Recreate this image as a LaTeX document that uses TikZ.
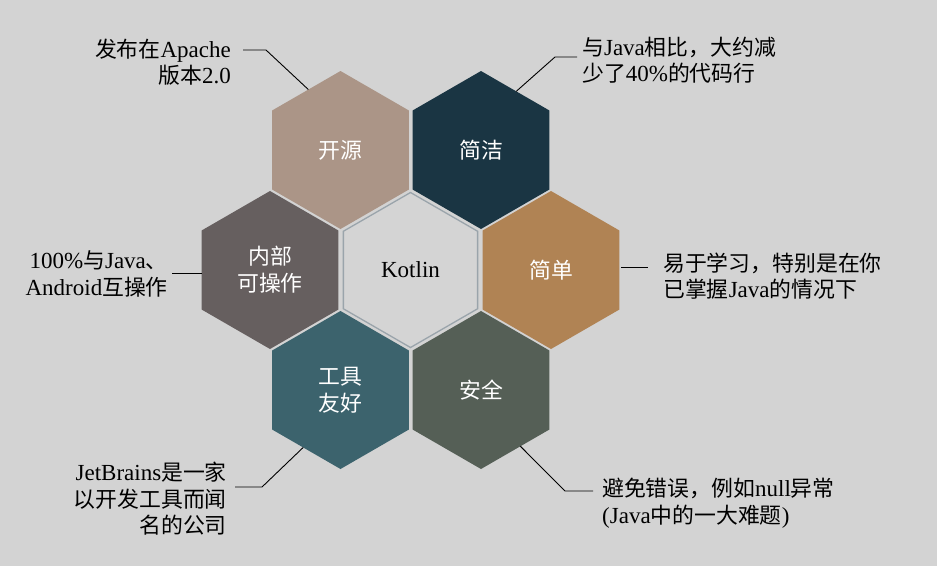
\documentclass[tikz,border=0pt]{standalone}
\usepackage{fontspec}
\setmainfont{Liberation Serif}
\newfontfamily\cjk{Noto Sans CJK SC}[Scale=0.95]
\usetikzlibrary{shapes.geometric}
\definecolor{bgc}{HTML}{D3D3D3}
\definecolor{ckaiyuan}{HTML}{AB9587}
\definecolor{cjianjie}{HTML}{1A3543}
\definecolor{cjiandan}{HTML}{B08354}
\definecolor{cneibu}{HTML}{665F5F}
\definecolor{cgongju}{HTML}{3C636D}
\definecolor{canquan}{HTML}{555F56}
\definecolor{ccenter}{HTML}{D4D4D4}
\definecolor{ccborder}{HTML}{9AA4AB}
\tikzset{
  hexbox/.style={regular polygon, regular polygon sides=6, shape border rotate=30,
    minimum size=158pt, inner sep=0pt, outer sep=0pt, text=white, align=center,
    font=\fontsize{23}{27}\selectfont},
  annot/.style={inner sep=0pt, text=black, font=\fontsize{23}{26.5}\selectfont},
  conn/.style={draw=black, line width=0.9pt}
}
\begin{document}
\begin{tikzpicture}[x=1pt,y=-1pt]
\fill[bgc] (0,0) rectangle (937,566);
\useasboundingbox (0,0) rectangle (937,566);
% hexagons
\node[hexbox, fill=ckaiyuan] (kaiyuan) at (340.5,150) {{\cjk 开源}};
\node[hexbox, fill=cjianjie] (jianjie) at (481,150) {{\cjk 简洁}};
\node[hexbox, fill=cneibu] (neibu) at (270,270) {{\cjk 内部}\\{\cjk 可操作}};
\node[hexbox, fill=cjiandan] (jiandan) at (551,270) {{\cjk 简单}};
\node[hexbox, fill=cgongju] (gongju) at (340.5,390) {{\cjk 工具}\\{\cjk 友好}};
\node[hexbox, fill=canquan] (anquan) at (481,390) {{\cjk 安全}};
\node[hexbox, fill=ccenter, draw=ccborder, line width=1.3pt, minimum size=155pt, text=black] (kotlin) at (410.5,270) {Kotlin};
% annotations
\node[annot, anchor=east, align=right] (a1) at (231,62) {{\cjk 发布在}Apache\\{\cjk 版本}2.0};
\node[annot, anchor=west, align=left] (a2) at (582,60) {{\cjk 与}Java{\cjk 相比，大约减}\\{\cjk 少了}40\%{\cjk 的代码行}};
\node[annot, anchor=east, align=right] (a3) at (168,274) {100\%{\cjk 与}Java{\cjk 、}\\Android{\cjk 互操作}};
\node[annot, anchor=west, align=left] (a4) at (663,276) {{\cjk 易于学习，特别是在你}\\{\cjk 已掌握}Java{\cjk 的情况下}};
\node[annot, anchor=east, align=right] (a5) at (227,499) {JetBrains{\cjk 是一家}\\{\cjk 以开发工具而闻}\\{\cjk 名的公司}};
\node[annot, anchor=west, align=left] (a6) at (602,503) {{\cjk 避免错误，例如}null{\cjk 异常}\\(Java{\cjk 中的一大难题})};
% connector points
\coordinate (c1a) at (243,50);
\coordinate (c1b) at (266,50);
\coordinate (c2a) at (577,57);
\coordinate (c2b) at (555,57);
\coordinate (c3a) at (172,273);
\coordinate (c3b) at (202,273);
\coordinate (c4a) at (621,267);
\coordinate (c4b) at (648,267);
\coordinate (c5a) at (235,487);
\coordinate (c5b) at (262,487);
\coordinate (c6a) at (593,491);
\coordinate (c6b) at (565,491);
% connectors
\draw[conn] (c1a) -- (c1b) -- (kaiyuan.118);
\draw[conn] (c2a) -- (c2b) -- (jianjie.59);
\draw[conn] (c3a) -- (c3b);
\draw[conn] (c4a) -- (c4b);
\draw[conn] (c5a) -- (c5b) -- (gongju.237.5);
\draw[conn] (c6a) -- (c6b) -- (anquan.305.7);
\end{tikzpicture}
\end{document}
